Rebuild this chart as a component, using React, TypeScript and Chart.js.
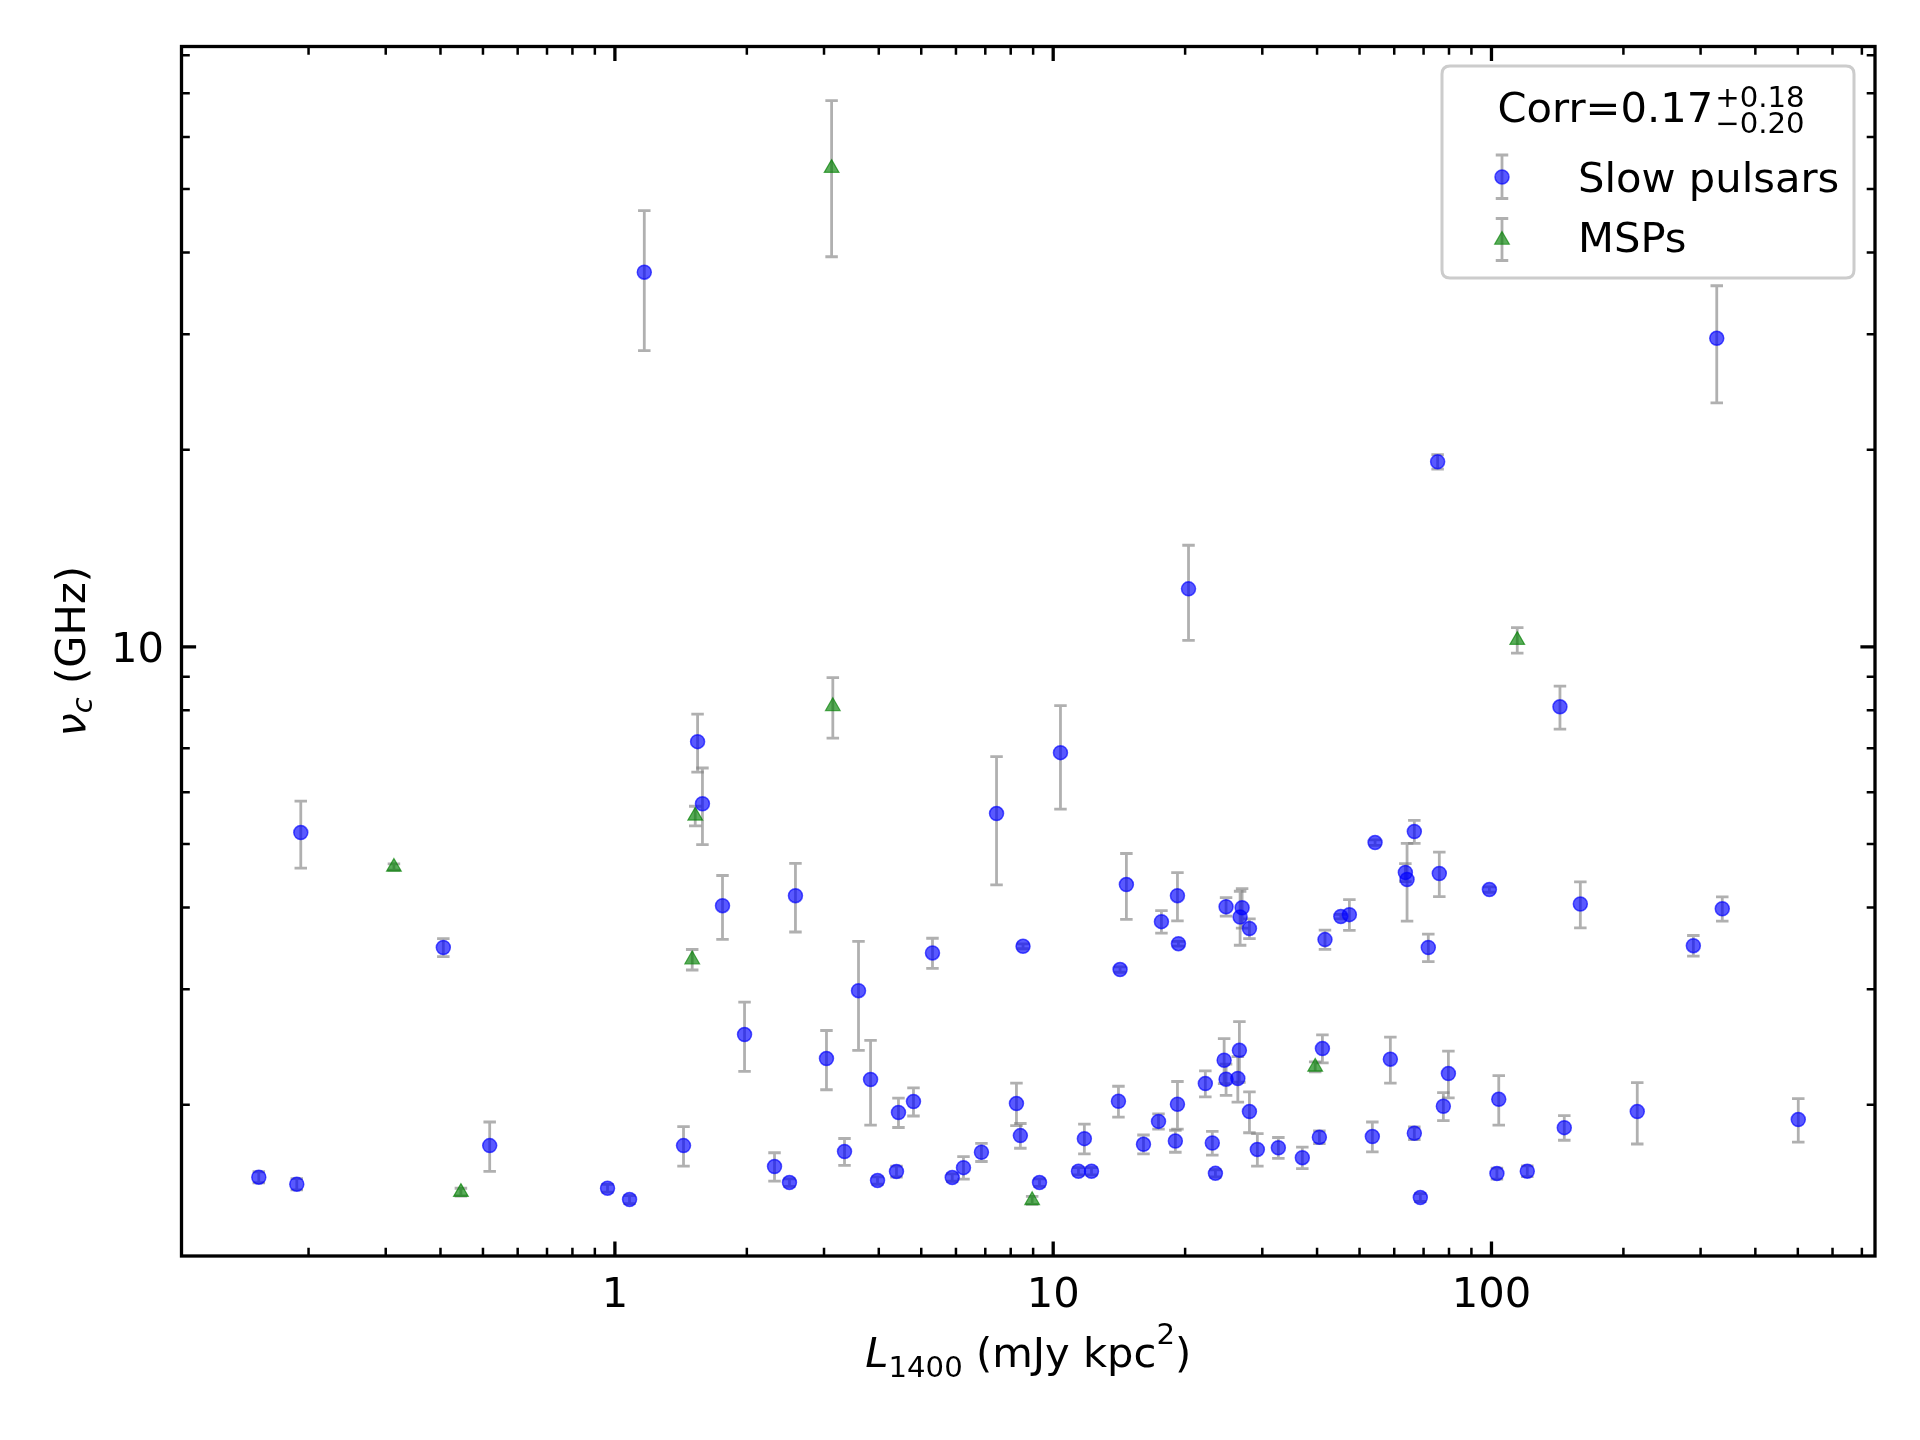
import React, { useEffect, useRef } from 'react';
import { Chart, registerables } from 'chart.js';

Chart.register(...registerables);

// ---------- data ----------
const SLOW_L1400 = [
  0.154, 0.188, 0.192, 0.406, 0.518, 0.962, 1.08, 1.167, 1.434, 1.544,
  1.584, 1.76, 1.976, 2.313, 2.502, 2.582, 3.039, 3.341, 3.596, 3.831,
  3.974, 4.39, 4.436, 4.8, 5.304, 5.884, 6.242, 6.86, 7.426, 8.245,
  8.416, 8.535, 9.306, 10.39, 11.42, 11.78, 12.23, 14.09, 14.21, 14.69,
  16.07, 17.39, 17.66, 19.0, 19.21, 19.21, 19.31, 20.36, 22.24, 23.07,
  23.45, 24.55, 24.8, 24.8, 26.38, 26.6, 26.7, 26.98, 28.04, 28.04,
  29.23, 32.64, 37.02, 40.49, 41.14, 41.7, 45.31, 47.4, 53.48, 54.25,
  58.79, 63.61, 64.18, 66.68, 66.68, 68.81, 71.76, 75.36, 76.03, 77.66,
  79.75, 98.92, 102.9, 103.9, 120.7, 143.3, 146.6, 159.5, 215.1, 288.8,
  326.6, 336.2, 501.2,
];
const SLOW_NUC = [
  1.550, 1.512, 5.205, 3.475, 1.732, 1.491, 1.433, 37.32, 1.732, 7.166,
  5.761, 4.026, 2.559, 1.609, 1.521, 4.170, 2.352, 1.696, 2.986, 2.185,
  1.532, 1.581, 1.946, 2.022, 3.410, 1.548, 1.603, 1.692, 5.565, 2.008,
  1.794, 3.490, 1.521, 6.894, 1.583, 1.775, 1.583, 2.024, 3.216, 4.336,
  1.740, 1.886, 3.806, 1.760, 2.003, 4.170, 3.522, 12.26, 2.154, 1.748,
  1.571, 2.338, 2.187, 4.011, 2.193, 2.421, 3.869, 3.997, 1.952, 3.714,
  1.709, 1.719, 1.660, 1.784, 2.436, 3.573, 3.874, 3.901, 1.788, 5.025,
  2.347, 4.523, 4.413, 1.809, 5.223, 1.443, 3.475, 19.16, 4.508, 1.989,
  2.231, 4.260, 1.570, 2.038, 1.583, 8.099, 1.845, 4.050, 1.952, 3.498,
  29.58, 3.983, 1.898,
];
const SLOW_ERR = [
  0.03, 0.03, 0.61, 0.11, 0.15, 0.02, 0.02, 9.0, 0.12, 0.73,
  0.77, 0.45, 0.31, 0.08, 0.02, 0.50, 0.244, 0.08, 0.565, 0.323,
  0.02, 0.03, 0.10, 0.10, 0.18, 0.02, 0.063, 0.054, 1.235, 0.15,
  0.078, 0.03, 0.02, 1.24, 0.02, 0.093, 0.02, 0.11, 0.03, 0.50,
  0.058, 0.05, 0.15, 0.068, 0.167, 0.353, 0.03, 2.03, 0.098, 0.073,
  0.02, 0.185, 0.12, 0.13, 0.175, 0.257, 0.366, 0.277, 0.14, 0.128,
  0.097, 0.063, 0.063, 0.04, 0.12, 0.12, 0.03, 0.21, 0.094, 0.05,
  0.19, 0.143, 0.60, 0.04, 0.21, 0.02, 0.167, 0.49, 0.353, 0.098,
  0.183, 0.04, 0.03, 0.177, 0.03, 0.61, 0.08, 0.326, 0.21, 0.127,
  6.0, 0.17, 0.145,
];

const MSP_L1400 = [0.3132, 0.4453, 1.501, 1.525, 3.122, 3.142, 8.954, 39.61, 114.5];
const MSP_NUC = [4.613, 1.471, 3.331, 5.520, 53.80, 8.113, 1.429, 2.284, 10.24];
const MSP_ERR = [0.05, 0.02, 0.12, 0.19, 14.4, 0.86, 0.02, 0.04, 0.46];

const SERIES_LABELS = ['Slow pulsars', 'MSPs'];
const X_MAJOR_TICKS = [1, 10, 100];
const X_TICK_LABELS = ['1', '10', '100'];
const Y_MAJOR_TICKS = [10];
const Y_TICK_LABELS = ['10'];
const CORR_MAIN = 'Corr=0.17';
const CORR_UP = '+0.18';
const CORR_DOWN = '\u22120.20';

const X_MIN = 0.1026;
const X_MAX = 750;
const Y_MIN = 1.175;
const Y_MAX = 82.5;

// ---------- styles ----------
const FONT = '"DejaVu Sans", "Liberation Sans", sans-serif';
const FS = 41.67;
const FS_SMALL = 29.17;
const BLUE_FILL = 'rgba(0,0,255,0.65)';
const BLUE_EDGE = 'rgba(0,0,255,0.65)';
const GREEN_FILL = 'rgba(0,128,0,0.65)';
const GREEN_EDGE = 'rgba(0,128,0,0.65)';
const ERR_COLOR = 'rgba(128,128,128,0.62)';
const ERR_LW = 2.8;
const CAP_HALF = 6.25;

const SERIES = [
  { xs: SLOW_L1400, ys: SLOW_NUC, es: SLOW_ERR },
  { xs: MSP_L1400, ys: MSP_NUC, es: MSP_ERR },
];

type Run = { text: string; size: number; italic?: boolean; dy?: number };

function setFont(ctx: CanvasRenderingContext2D, size: number, italic?: boolean) {
  ctx.font = `${italic ? 'italic ' : ''}${size}px ${FONT}`;
}

function drawRuns(ctx: CanvasRenderingContext2D, runs: Run[], x: number, y: number, align: 'left' | 'center' | 'right') {
  const widths = runs.map((r) => {
    setFont(ctx, r.size, r.italic);
    return ctx.measureText(r.text).width;
  });
  const total = widths.reduce((a, b) => a + b, 0);
  let cx = align === 'center' ? x - total / 2 : align === 'right' ? x - total : x;
  ctx.textAlign = 'left';
  ctx.textBaseline = 'alphabetic';
  runs.forEach((r, i) => {
    setFont(ctx, r.size, r.italic);
    ctx.fillText(r.text, cx, y + (r.dy || 0));
    cx += widths[i];
  });
}

function logTicks(min: number, max: number) {
  const out: { v: number; major: boolean }[] = [];
  const lo = Math.floor(Math.log10(min));
  const hi = Math.ceil(Math.log10(max));
  for (let d = lo; d <= hi; d++) {
    for (let k = 1; k <= 9; k++) {
      const v = k * Math.pow(10, d);
      if (v >= min && v <= max) out.push({ v, major: k === 1 });
    }
  }
  return out;
}

function drawErrBar(ctx: CanvasRenderingContext2D, px: number, yTop: number, yBot: number) {
  ctx.beginPath();
  ctx.moveTo(px, yTop);
  ctx.lineTo(px, yBot);
  ctx.moveTo(px - CAP_HALF, yTop);
  ctx.lineTo(px + CAP_HALF, yTop);
  ctx.moveTo(px - CAP_HALF, yBot);
  ctx.lineTo(px + CAP_HALF, yBot);
  ctx.stroke();
}

const errorBarPlugin = {
  id: 'errorBars',
  beforeDatasetsDraw(chart: any) {
    const { ctx, chartArea, scales } = chart;
    const xs = scales.x;
    const ys = scales.y;
    ctx.save();
    ctx.beginPath();
    ctx.rect(chartArea.left, chartArea.top, chartArea.right - chartArea.left, chartArea.bottom - chartArea.top);
    ctx.clip();
    ctx.strokeStyle = ERR_COLOR;
    ctx.lineWidth = ERR_LW;
    ctx.lineCap = 'butt';
    SERIES.forEach((s) => {
      s.xs.forEach((xv, i) => {
        const px = xs.getPixelForValue(xv);
        const yTop = ys.getPixelForValue(s.ys[i] + s.es[i]);
        const yBot = ys.getPixelForValue(Math.max(s.ys[i] - s.es[i], 1e-6));
        drawErrBar(ctx, px, yTop, yBot);
      });
    });
    ctx.restore();
  },
};

const axesPlugin = {
  id: 'mplAxes',
  afterDatasetsDraw(chart: any) {
    const { ctx, chartArea, scales } = chart;
    const { left, right, top, bottom } = chartArea;
    const xs = scales.x;
    const ys = scales.y;
    ctx.save();
    ctx.strokeStyle = '#000';
    ctx.lineCap = 'butt';
    // x ticks (bottom & top, inward)
    logTicks(X_MIN, X_MAX).forEach((t) => {
      const px = xs.getPixelForValue(t.v);
      const len = t.major ? 14.6 : 8.3;
      ctx.lineWidth = t.major ? 3.3 : 2.5;
      ctx.beginPath();
      ctx.moveTo(px, bottom);
      ctx.lineTo(px, bottom - len);
      ctx.moveTo(px, top);
      ctx.lineTo(px, top + len);
      ctx.stroke();
    });
    // y ticks (left & right, inward)
    logTicks(Y_MIN, Y_MAX).forEach((t) => {
      const py = ys.getPixelForValue(t.v);
      const len = t.major ? 14.6 : 8.3;
      ctx.lineWidth = t.major ? 3.3 : 2.5;
      ctx.beginPath();
      ctx.moveTo(left, py);
      ctx.lineTo(left + len, py);
      ctx.moveTo(right, py);
      ctx.lineTo(right - len, py);
      ctx.stroke();
    });
    // frame
    ctx.lineWidth = 3.3;
    ctx.lineJoin = 'miter';
    ctx.strokeRect(left, top, right - left, bottom - top);

    // tick labels
    ctx.fillStyle = '#000';
    X_MAJOR_TICKS.forEach((v, i) => {
      const px = xs.getPixelForValue(v);
      drawRuns(ctx, [{ text: X_TICK_LABELS[i], size: FS }], px, bottom + 51, 'center');
    });
    Y_MAJOR_TICKS.forEach((v, i) => {
      const py = ys.getPixelForValue(v);
      drawRuns(ctx, [{ text: Y_TICK_LABELS[i], size: FS }], left - 17.5, py + 15.3, 'right');
    });

    // x axis title: L_1400 (mJy kpc^2)
    drawRuns(
      ctx,
      [
        { text: 'L', size: FS, italic: true },
        { text: '1400', size: FS_SMALL, dy: 10.6 },
        { text: ' (mJy kpc', size: FS },
        { text: '2', size: FS_SMALL, dy: -23 },
        { text: ')', size: FS },
      ],
      (left + right) / 2,
      bottom + 110.7,
      'center'
    );

    // y axis title: nu_c (GHz)
    ctx.save();
    ctx.translate(left - 96.5, (top + bottom) / 2);
    ctx.rotate(-Math.PI / 2);
    drawRuns(
      ctx,
      [
        { text: '\u03bd', size: FS, italic: true },
        { text: 'c', size: FS_SMALL, italic: true, dy: 6.7 },
        { text: ' (GHz)', size: FS },
      ],
      0,
      0,
      'center'
    );
    ctx.restore();
    ctx.restore();
  },
};

function roundRect(ctx: CanvasRenderingContext2D, x: number, y: number, w: number, h: number, r: number) {
  ctx.beginPath();
  ctx.moveTo(x + r, y);
  ctx.lineTo(x + w - r, y);
  ctx.quadraticCurveTo(x + w, y, x + w, y + r);
  ctx.lineTo(x + w, y + h - r);
  ctx.quadraticCurveTo(x + w, y + h, x + w - r, y + h);
  ctx.lineTo(x + r, y + h);
  ctx.quadraticCurveTo(x, y + h, x, y + h - r);
  ctx.lineTo(x, y + r);
  ctx.quadraticCurveTo(x, y, x + r, y);
  ctx.closePath();
}

const legendPlugin = {
  id: 'mplLegend',
  afterDraw(chart: any) {
    const { ctx, chartArea } = chart;
    const { right, top } = chartArea;
    const bx1 = right - 21;
    const by0 = top + 19.5;
    const bw = 412;
    const bh = 212;
    const bx0 = bx1 - bw;
    ctx.save();
    roundRect(ctx, bx0, by0, bw, bh, 8);
    ctx.fillStyle = 'rgba(255,255,255,0.8)';
    ctx.fill();
    ctx.strokeStyle = '#cccccc';
    ctx.lineWidth = 3;
    ctx.stroke();

    // title
    ctx.fillStyle = '#000';
    setFont(ctx, FS);
    const wMain = ctx.measureText(CORR_MAIN).width;
    setFont(ctx, FS_SMALL);
    const wUp = ctx.measureText(CORR_UP).width;
    const wDn = ctx.measureText(CORR_DOWN).width;
    const total = wMain + Math.max(wUp, wDn) + 2;
    const tx = bx0 + bw / 2 - total / 2 + 3;
    const tBase = by0 + 56;
    ctx.textAlign = 'left';
    ctx.textBaseline = 'alphabetic';
    setFont(ctx, FS);
    ctx.fillText(CORR_MAIN, tx, tBase);
    setFont(ctx, FS_SMALL);
    ctx.fillText(CORR_UP, tx + wMain + 2, tBase - 15.3);
    ctx.fillText(CORR_DOWN, tx + wMain + 2, tBase + 11);

    const mx = bx0 + 60;
    const lx = bx0 + 136;

    // Slow pulsars entry
    const y1 = by0 + 111;
    ctx.strokeStyle = ERR_COLOR;
    ctx.lineWidth = ERR_LW;
    drawErrBar(ctx, mx, y1 - 22, y1 + 21.5);
    ctx.beginPath();
    ctx.arc(mx, y1, 7, 0, Math.PI * 2);
    ctx.fillStyle = BLUE_FILL;
    ctx.fill();
    ctx.strokeStyle = BLUE_EDGE;
    ctx.lineWidth = 1.5;
    ctx.stroke();
    ctx.fillStyle = '#000';
    setFont(ctx, FS);
    ctx.fillText(SERIES_LABELS[0], lx, y1 + 15);

    // MSPs entry
    const y2 = by0 + 174;
    ctx.strokeStyle = ERR_COLOR;
    ctx.lineWidth = ERR_LW;
    drawErrBar(ctx, mx, y2 - 21.5, y2 + 20.5);
    const r = 8.5;
    ctx.beginPath();
    ctx.moveTo(mx, y2 - r);
    ctx.lineTo(mx + 0.866 * r, y2 + 0.5 * r);
    ctx.lineTo(mx - 0.866 * r, y2 + 0.5 * r);
    ctx.closePath();
    ctx.fillStyle = GREEN_FILL;
    ctx.fill();
    ctx.strokeStyle = GREEN_EDGE;
    ctx.lineWidth = 1.2;
    ctx.stroke();
    ctx.fillStyle = '#000';
    setFont(ctx, FS);
    ctx.fillText(SERIES_LABELS[1], lx, y2 + 11.7);
    ctx.restore();
  },
};

export default function App() {
  const canvasRef = useRef<HTMLCanvasElement | null>(null);

  useEffect(() => {
    document.body.style.margin = '0';
    const canvas = canvasRef.current;
    if (!canvas) return;
    const chart = new Chart(canvas, {
      type: 'scatter',
      data: {
        datasets: [
          {
            label: SERIES_LABELS[0],
            data: SLOW_L1400.map((x, i) => ({ x, y: SLOW_NUC[i] })),
            pointStyle: 'circle',
            pointRadius: 7,
            pointHoverRadius: 7,
            backgroundColor: BLUE_FILL,
            borderColor: BLUE_EDGE,
            borderWidth: 1.5,
          },
          {
            label: SERIES_LABELS[1],
            data: MSP_L1400.map((x, i) => ({ x, y: MSP_NUC[i] })),
            pointStyle: 'triangle',
            pointRadius: 8.5,
            pointHoverRadius: 8.5,
            backgroundColor: GREEN_FILL,
            borderColor: GREEN_EDGE,
            borderWidth: 1.2,
          },
        ],
      },
      options: {
        responsive: false,
        maintainAspectRatio: false,
        animation: false,
        devicePixelRatio: 1,
        events: [],
        layout: { padding: { left: 181.5, top: 46.5, right: 45, bottom: 184 } },
        scales: {
          x: { type: 'logarithmic', min: X_MIN, max: X_MAX, display: false },
          y: { type: 'logarithmic', min: Y_MIN, max: Y_MAX, display: false },
        },
        plugins: {
          legend: { display: false },
          tooltip: { enabled: false },
          title: { display: false },
        },
      },
      plugins: [errorBarPlugin, axesPlugin, legendPlugin],
    } as any);
    return () => {
      chart.destroy();
    };
  }, []);

  return (
    <div style={{ width: 1920, height: 1440, background: '#fff' }}>
      <canvas ref={canvasRef} width={1920} height={1440} style={{ display: 'block', width: 1920, height: 1440 }} />
    </div>
  );
}
